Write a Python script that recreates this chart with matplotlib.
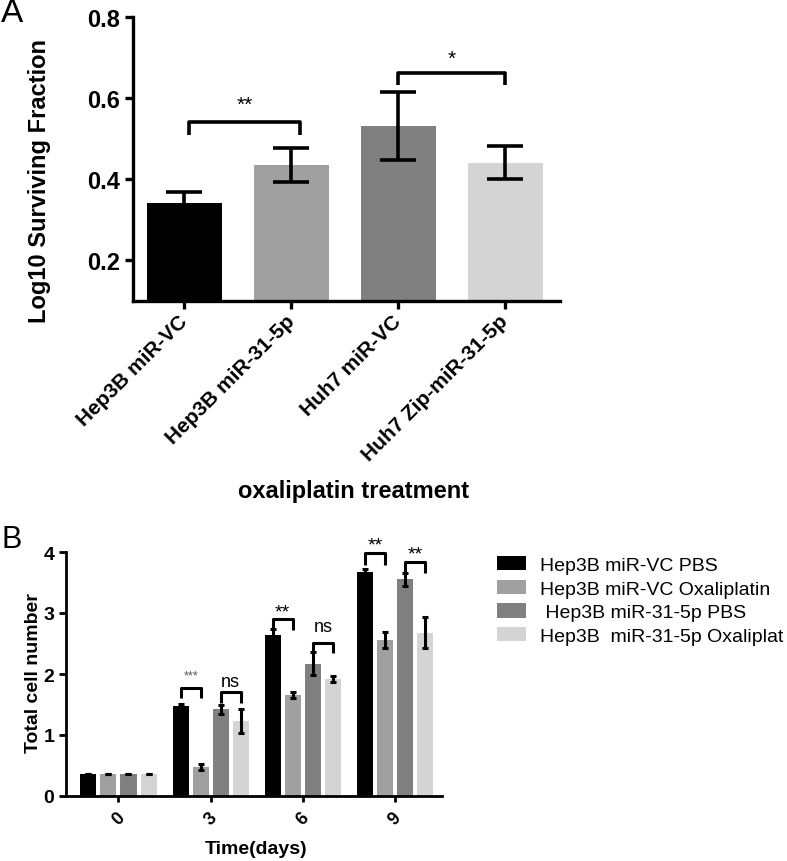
import numpy as np
import matplotlib
matplotlib.use("Agg")
import matplotlib.pyplot as plt

plt.rcParams['font.family'] = ['Liberation Sans', 'DejaVu Sans']

# panel A data
a_labels = ["Hep3B miR-VC", "Hep3B miR-31-5p", "Huh7 miR-VC", "Huh7 Zip-miR-31-5p"]
a_means = [0.341, 0.435, 0.532, 0.441]
a_errs = [0.028, 0.042, 0.084, 0.041]

# panel B data
b_days = ["0", "3", "6", "9"]
b_series = ["Hep3B miR-VC PBS", "Hep3B miR-VC Oxaliplatin",
            " Hep3B miR-31-5p PBS", "Hep3B  miR-31-5p Oxaliplat"]
b_vc_pbs = [0.355, 1.48, 2.64, 3.67]
b_vc_oxa = [0.355, 0.475, 1.65, 2.56]
b_31_pbs = [0.355, 1.42, 2.17, 3.55]
b_31_oxa = [0.355, 1.23, 1.92, 2.68]
b_vc_pbs_err = [0, 0.03, 0.10, 0.05]
b_vc_oxa_err = [0, 0.05, 0.05, 0.13]
b_31_pbs_err = [0, 0.07, 0.19, 0.10]
b_31_oxa_err = [0, 0.20, 0.05, 0.25]

colors = ["#000000", "#a0a0a0", "#808080", "#d4d4d4"]

fig = plt.figure(figsize=(7.87, 8.62), dpi=100)
W, H = 787.0, 862.0

# ---------------- panel A ----------------
axA = fig.add_axes([133 / W, 1 - 302 / H, (560 - 133) / W, (302 - 18) / H])
xa = np.arange(len(a_labels))
axA.bar(xa, a_means, width=0.7, color=colors, zorder=2)
axA.errorbar(xa, a_means, yerr=a_errs, fmt='none', ecolor='black',
             elinewidth=2.6, capsize=13, capthick=2.6, zorder=3)
axA.set_xlim(-0.48, 3.51)
axA.set_ylim(0.1, 0.8)
axA.set_yticks([0.2, 0.4, 0.6, 0.8])
axA.set_yticklabels(["0.2", "0.4", "0.6", "0.8"], fontsize=17, fontweight='bold')
axA.set_xticks(xa)
axA.set_xticklabels(a_labels, rotation=45, ha='right', va='center',
                    rotation_mode='anchor', fontsize=15, fontweight='bold')
for s in ['top', 'right']:
    axA.spines[s].set_visible(False)
for s in ['left', 'bottom']:
    axA.spines[s].set_linewidth(2.4)
axA.tick_params(width=2.4, length=6)
axA.tick_params(axis='x', pad=6)

def bracket(ax, x1, x2, y, tip, text, ty, fs, color='black', lw=2.6):
    ax.plot([x1, x1, x2, x2], [tip, y, y, tip], color='black', lw=lw,
            solid_joinstyle='round', solid_capstyle='butt', clip_on=False, zorder=4)
    ax.text((x1 + x2) / 2, ty, text, ha='center', va='center', fontsize=fs,
            color=color, clip_on=False)

bracket(axA, 0.04, 1.08, 0.54, 0.51, "**", 0.585, 15)
bracket(axA, 2.0, 3.0, 0.662, 0.632, "*", 0.697, 15)

fig.text(1 / W, 1 - 14 / H, "A", fontsize=24, va='center', ha='left')
fig.text(40 / W, 1 - 181 / H, "Log10 Surviving Fraction", rotation=90,
         fontsize=17, fontweight='bold', ha='center', va='center')
fig.text(354 / W, 1 - 492 / H, "oxaliplatin treatment", fontsize=17,
         fontweight='bold', ha='center', va='center')

# ---------------- panel B ----------------
axB = fig.add_axes([66 / W, 1 - 797 / H, (442 - 66) / W, (797 - 553) / H])
centers = np.arange(len(b_days)) * 4.6
offsets = [-1.5, -0.5, 0.5, 1.5]
vals = [b_vc_pbs, b_vc_oxa, b_31_pbs, b_31_oxa]
errs = [b_vc_pbs_err, b_vc_oxa_err, b_31_pbs_err, b_31_oxa_err]
handles = []
for i in range(4):
    xs = centers + offsets[i]
    h = axB.bar(xs, vals[i], width=0.8, color=colors[i], label=b_series[i], zorder=2)
    handles.append(h)
    axB.errorbar(xs, vals[i], yerr=errs[i], fmt='none', ecolor='black',
                 elinewidth=2.2, capsize=2.5, capthick=2.2, zorder=3)
axB.set_xlim(-2.62, 16.15)
axB.set_ylim(0, 4)
axB.set_yticks([0, 1, 2, 3, 4])
axB.set_yticklabels(["0", "1", "2", "3", "4"], fontsize=14, fontweight='bold')
axB.set_xticks(centers)
axB.set_xticklabels(b_days, rotation=45, ha='center', va='top',
                    fontsize=13, fontweight='bold')
for s in ['top', 'right']:
    axB.spines[s].set_visible(False)
for s in ['left', 'bottom']:
    axB.spines[s].set_linewidth(2.0)
axB.tick_params(axis='y', width=2.0, length=5)
axB.tick_params(axis='x', width=2.0, length=4, pad=5)

g = centers
bracket(axB, g[1] - 1.5, g[1] - 0.5, 1.765, 1.61, "***", 1.97, 9, color='#555555', lw=2.2)
bracket(axB, g[1] + 0.5, g[1] + 1.5, 1.705, 1.52, "ns", 1.88, 13, lw=2.2)
bracket(axB, g[2] - 1.5, g[2] - 0.5, 2.90, 2.72, "**", 3.02, 14, lw=2.2)
bracket(axB, g[2] + 0.5, g[2] + 1.5, 2.51, 2.35, "ns", 2.78, 13, lw=2.2)
bracket(axB, g[3] - 1.5, g[3] - 0.5, 3.98, 3.78, "**", 4.12, 14, lw=2.2)
bracket(axB, g[3] + 0.5, g[3] + 1.5, 3.83, 3.65, "**", 3.97, 14, lw=2.2)

fig.text(1 / W, 1 - 540 / H, "B", fontsize=22, va='center', ha='left')
fig.text(34 / W, 1 - 673 / H, "Total cell number", rotation=90,
         fontsize=14, fontweight='bold', ha='center', va='center')
fig.text(256 / W, 1 - 850 / H, "Time(days)", fontsize=14,
         fontweight='bold', ha='center', va='center')

fig.legend(handles=handles, labels=b_series, loc='upper left',
           bbox_to_anchor=(497 / W, 1 - 557 / H), frameon=False, fontsize=14,
           handlelength=1.5, handleheight=0.75, handletextpad=0.7,
           labelspacing=0.3, borderpad=0, borderaxespad=0)

fig.savefig("out.png", dpi=100)
